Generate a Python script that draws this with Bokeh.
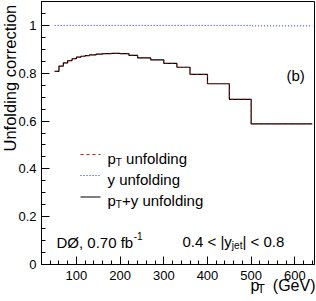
import numpy as np
from bokeh.plotting import figure
from bokeh.models import Label, Range1d, FixedTicker, NumeralTickFormatter, Title
from bokeh.embed import file_html
from bokeh.resources import INLINE

# ---- data ----
pt_edges = [50, 60, 70, 80, 90, 100, 110, 120, 130, 145, 160, 180, 200, 220,
            240, 270, 300, 330, 360, 400, 450, 500, 640]
pty_unfold = [0.808, 0.830, 0.843, 0.853, 0.861, 0.867, 0.871, 0.874, 0.877,
              0.880, 0.882, 0.883, 0.882, 0.875, 0.864, 0.856, 0.841, 0.825,
              0.795, 0.756, 0.691, 0.588]
pt_unfold = [0.808, 0.830, 0.843, 0.853, 0.861, 0.867, 0.871, 0.874, 0.877,
             0.880, 0.882, 0.883, 0.882, 0.875, 0.864, 0.856, 0.841, 0.825,
             0.795, 0.756, 0.691, 0.588]
y_unfold = [1.000, 1.000, 1.000, 1.000, 1.000, 1.000, 1.000, 1.000, 1.000,
            1.000, 1.000, 1.000, 1.000, 1.000, 1.000, 1.000, 1.000, 1.000,
            1.000, 1.000, 1.000, 0.998]
y_ticks = [0, 0.2, 0.4, 0.6, 0.8, 1.0]
x_ticks = [100, 200, 300, 400, 500, 600]
legend_labels = [("p", "T", "unfolding"), ("y unfolding", "", ""), ("p", "T", "+y unfolding")]

FONT = "Liberation Sans"
X0, X1 = 20, 645
Y0, Y1 = 0, 1.1
W, H = 316, 301
# pixel layout of the frame
FL, FR, FT, FB = 41, 314, 1, 264

def dx(px):
    return X0 + (px - FL) * (X1 - X0) / (FR - FL)

def dy(py):
    return Y0 + (FB - py) * (Y1 - Y0) / (FB - FT)

AW = {'p': .556, 'T': .611, ' ': .278, '+': .584, 'y': .5, 'u': .556, 'n': .556,
      'f': .278, 'o': .556, 'l': .222, 'd': .556, 'i': .222, 'g': .556, 'D': .722,
      'Ø': .778, ',': .278, '0': .556, '.': .278, '7': .556, 'b': .556, '4': .556,
      '<': .584, '|': .26, 'j': .222, 'e': .556, 't': .278, '8': .556, '(': .333,
      ')': .333, 'G': .778, 'V': .667, '-': .333, '1': .556}

def tw(s, size):
    return sum(AW.get(c, .556) for c in s) * size

p = figure(width=W, height=H, output_backend="svg", toolbar_location=None,
           x_range=Range1d(X0, X1), y_range=Range1d(Y0, Y1),
           min_border_left=FL, min_border_right=W - FR,
           min_border_top=FT, min_border_bottom=H - FB)
p.xgrid.visible = False
p.ygrid.visible = False
p.outline_line_color = "black"
p.outline_line_width = 1
p.background_fill_color = "white"
p.border_fill_color = "white"

for ax in (p.xaxis[0], p.yaxis[0]):
    ax.major_tick_in = 8
    ax.major_tick_out = 0
    ax.minor_tick_in = 4
    ax.minor_tick_out = 0
    ax.axis_line_color = "black"
    ax.major_tick_line_color = "black"
    ax.minor_tick_line_color = "black"
    ax.major_label_text_font = FONT
    ax.major_label_text_font_size = "13px"
    ax.major_label_text_color = "black"

p.xaxis[0].ticker = FixedTicker(ticks=x_ticks, minor_ticks=list(range(20, 660, 20)))
p.yaxis[0].ticker = FixedTicker(ticks=y_ticks, minor_ticks=[i * 0.05 for i in range(23)])
p.yaxis[0].formatter = NumeralTickFormatter(format="0.[0]")
p.xaxis[0].major_label_standoff = 6
p.yaxis[0].major_label_standoff = 5

# histograms
xs = pt_edges
p.step(x=xs, y=pty_unfold + [pty_unfold[-1]], mode="after", line_color="black", line_width=1.2)
p.step(x=xs, y=pt_unfold + [pt_unfold[-1]], mode="after", line_color="#e01010",
       line_width=1, line_dash="3 3", line_alpha=0.6)
p.step(x=xs, y=y_unfold + [y_unfold[-1]], mode="after", line_color="#2020ff",
       line_width=1, line_dash="1 2")

# legend (manual)
row_line_y = [154, 175, 196.5]
row_base_y = [158, 179, 200]
styles = [dict(line_color="#e01010", line_dash="3 3", line_width=1),
          dict(line_color="#2020ff", line_dash="1 2", line_width=1),
          dict(line_color="black", line_width=1.2)]
for ly, st in zip(row_line_y, styles):
    p.segment(x0=[dx(80)], y0=[dy(ly)], x1=[dx(100)], y1=[dy(ly)], **st)

def txt(s, px, py, size, **kw):
    p.add_layout(Label(x=dx(px), y=dy(py), text=s, text_font=FONT,
                       text_font_size=f"{size}px", text_baseline="alphabetic",
                       text_align=kw.pop("align", "left"), text_color="black", **kw))

for (a, sub, b), by in zip(legend_labels, row_base_y):
    x = 107
    txt(a, x, by, 15)
    x += tw(a, 15)
    if sub:
        txt(sub, x, by + 3.5, 10)
        x += tw(sub, 10)
    if b:
        txt(b, x + (tw(" ", 15) if not b.startswith("+") else 0), by, 15)

# (b)
txt("(b)", 286, 74.5, 15)

# DØ lumi
s = "DØ, 0.70 fb"
txt(s, 56, 241.5, 15)
txt("-1", 56 + tw(s, 15) + 0.5, 235.5, 10)

# rapidity range
x = 182
s1 = "0.4 < |y"
txt(s1, x, 241, 15); x += tw(s1, 15)
txt("jet", x, 244.5, 10); x += tw("jet", 10)
txt("| < 0.8", x, 241, 15)

# x title (two stacked titles below the axis; the subscript row overlaps)
NB = "\u00a0"
x_title = "p" + NB * 3 + "(GeV)"
p.add_layout(Title(text=x_title, align="right", vertical_align="top", offset=FR - 315,
                   standoff=-11, text_font=FONT, text_font_size="16px",
                   text_font_style="normal", text_color="black"), "below")
t_left = 315 - tw("(GeV)", 16) - 3 * tw(" ", 16)
p.add_layout(Title(text="T", align="left", vertical_align="top", offset=t_left - FL - 2,
                   standoff=-18, text_font=FONT, text_font_size="12px",
                   text_font_style="normal", text_color="black"), "below")

# y title
p.add_layout(Title(text="Unfolding correction", align="left", vertical_align="middle",
                   offset=FB - 151, standoff=-8, text_font=FONT, text_font_size="16.5px",
                   text_font_style="normal", text_color="black"), "left")

open("out.html", "w").write(file_html(p, INLINE))
